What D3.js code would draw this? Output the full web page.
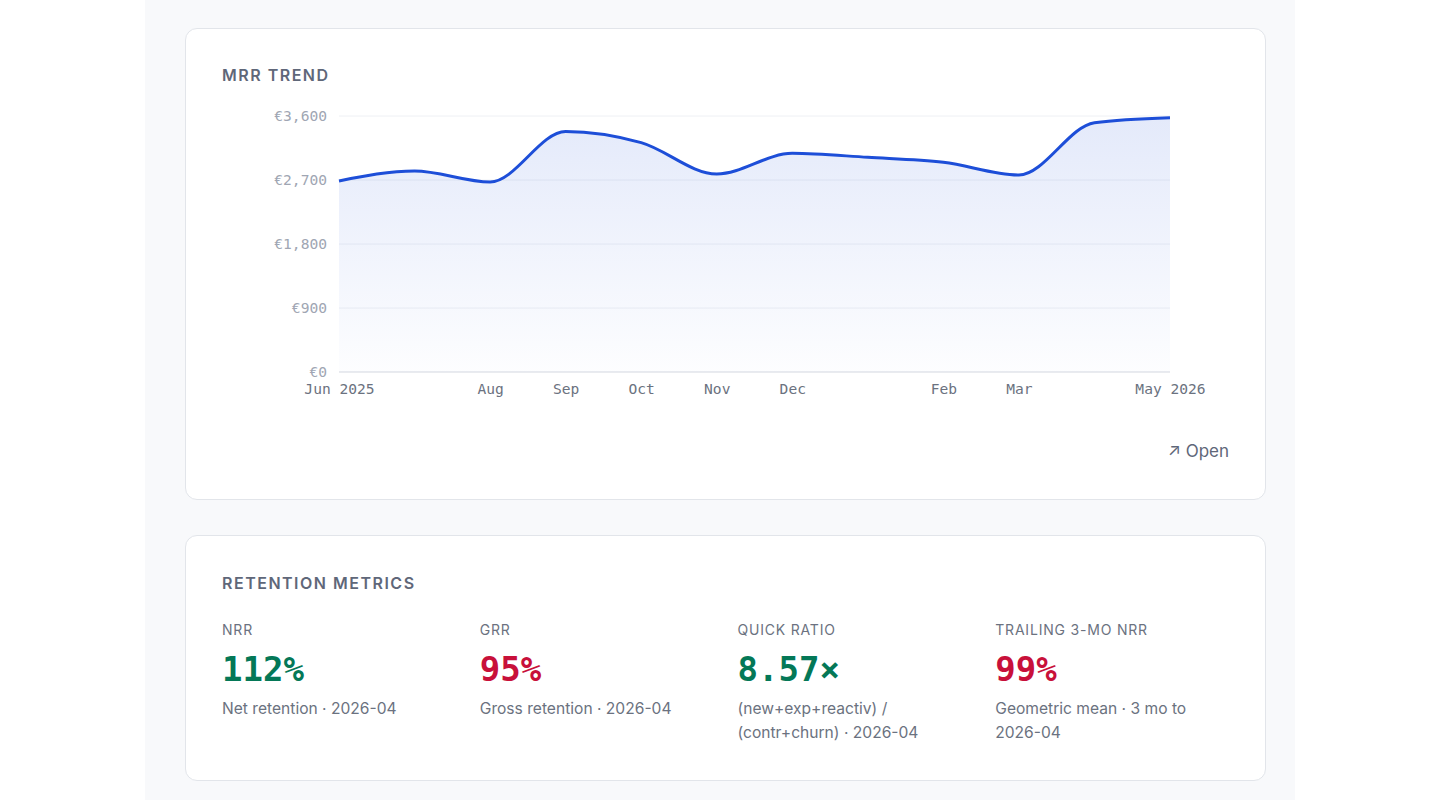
<!DOCTYPE html>
<html>
<head>
<meta charset="utf-8">
<script src="https://cdn.jsdelivr.net/npm/d3@7"></script>
<style>
  html, body { margin: 0; padding: 0; background: #fff; }
  body { font-family: Inter, "Noto Sans", sans-serif; }
  .page { width: 1150px; margin: 0 auto; background: #f8f9fb; min-height: 800px; padding: 28px 29px 0 40px; box-sizing: border-box; }
  .card { background: #fff; border: 1px solid #e2e5ea; border-radius: 12px; padding: 0 36px; box-sizing: border-box; position: relative; }
  .card h2 { margin: 0; font-size: 16px; font-weight: 600; letter-spacing: 1.5px; color: #5f6779; text-transform: uppercase; }
  #trend { height: 472px; padding-top: 36px; }
  #retention { height: 246px; margin-top: 35px; padding-top: 37px; }
  .open { position: absolute; right: 36px; top: 412px; font-size: 17px; color: #5f6779; }
  .grid-row { display: grid; grid-template-columns: repeat(4, 1fr); column-gap: 24px; margin-top: 27px; }
  .m-label { font-size: 14px; letter-spacing: 0.8px; color: #6b7280; line-height: 20px; }
  .m-value { font-family: "DejaVu Sans Mono", monospace; font-weight: bold; font-size: 34px; line-height: 40px; margin-top: 9px; }
  .m-sub { font-size: 15.6px; color: #6b7280; line-height: 24px; margin-top: 8px; }
  .good { color: #047857; }
  .bad { color: #c8103a; }
  .axis text { font-family: "DejaVu Sans Mono", monospace; font-size: 14.6px; }
</style>
</head>
<body>
<div class="page">
  <div class="card" id="trend">
    <h2>MRR Trend</h2>
    <div id="chart"></div>
    <div class="open">↗ Open</div>
  </div>
  <div class="card" id="retention">
    <h2>Retention Metrics</h2>
    <div class="grid-row" id="metrics"></div>
  </div>
</div>
<script>
// MRR by month
var months = ["2025-06", "2025-07", "2025-08", "2025-09", "2025-10", "2025-11",
              "2025-12", "2026-01", "2026-02", "2026-03", "2026-04", "2026-05"];
var mrr = [2686, 2827, 2672, 3382, 3225, 2784, 3075, 3019, 2949, 2770, 3506, 3576];

// axis labels (some months hidden like the original)
var xTickMonths = ["2025-06", "2025-08", "2025-09", "2025-10", "2025-11", "2025-12", "2026-02", "2026-03", "2026-05"];
var xTickLabels = ["Jun 2025", "Aug", "Sep", "Oct", "Nov", "Dec", "Feb", "Mar", "May 2026"];
var yTicks = [0, 900, 1800, 2700, 3600];

// retention cards
var metricNames = ["NRR", "GRR", "QUICK RATIO", "TRAILING 3-MO NRR"];
var metricValues = ["112%", "95%", "8.57×", "99%"];
var metricGood = [true, false, true, false];
var metricNotes = ["Net retention · 2026-04", "Gross retention · 2026-04",
                   "(new+exp+reactiv) / (contr+churn) · 2026-04", "Geometric mean · 3 mo to 2026-04"];

var width = 1008, height = 310;
var margin = {top: 16, right: 59, bottom: 38, left: 117};

var svg = d3.select("#chart").append("svg")
    .attr("width", width)
    .attr("height", height)
    .style("display", "block")
    .style("margin-top", "15px");

var x = d3.scalePoint()
    .domain(months)
    .range([margin.left, width - margin.right - 1]);

var y = d3.scaleLinear()
    .domain([0, 3600])
    .range([height - margin.bottom, margin.top]);

var grad = svg.append("defs").append("linearGradient")
    .attr("id", "fillGrad")
    .attr("x1", 0).attr("y1", 0).attr("x2", 0).attr("y2", 1);
grad.append("stop").attr("offset", "0%").attr("stop-color", "#1d4ed8").attr("stop-opacity", 0.12);
grad.append("stop").attr("offset", "100%").attr("stop-color", "#1d4ed8").attr("stop-opacity", 0.01);

// gridlines
svg.append("g")
    .selectAll("line")
    .data(yTicks)
    .join("line")
    .attr("x1", margin.left)
    .attr("x2", width - margin.right - 1)
    .attr("y1", d => y(d))
    .attr("y2", d => y(d))
    .attr("stroke", d => d === 0 ? "#e2e5ea" : "#eef0f4")
    .attr("stroke-width", d => d === 0 ? 1.5 : 1);

var data = months.map((m, i) => ({month: m, value: mrr[i]}));

var area = d3.area()
    .x(d => x(d.month))
    .y0(y(0))
    .y1(d => y(d.value))
    .curve(d3.curveMonotoneX);

var line = d3.line()
    .x(d => x(d.month))
    .y(d => y(d.value))
    .curve(d3.curveMonotoneX);

svg.append("path")
    .datum(data)
    .attr("d", area)
    .attr("fill", "url(#fillGrad)");

svg.append("path")
    .datum(data)
    .attr("d", line)
    .attr("fill", "none")
    .attr("stroke", "#1d4ed8")
    .attr("stroke-width", 3);

// y axis
var yAxis = svg.append("g")
    .attr("class", "axis")
    .attr("transform", "translate(" + (margin.left - 9) + ",0)")
    .call(d3.axisLeft(y).tickValues(yTicks).tickSize(0).tickFormat(d => "€" + d3.format(",")(d)));
yAxis.select(".domain").remove();
yAxis.selectAll("text").attr("fill", "#a0a6b3");

// x axis
var xAxis = svg.append("g")
    .attr("class", "axis")
    .attr("transform", "translate(0," + (height - margin.bottom) + ")")
    .call(d3.axisBottom(x).tickValues(xTickMonths).tickSize(0)
        .tickFormat(d => xTickLabels[xTickMonths.indexOf(d)]));
xAxis.select(".domain").remove();
xAxis.selectAll("text").attr("fill", "#6b7280").attr("y", 0).attr("dy", "1.5em");

// metrics
var cols = d3.select("#metrics")
    .selectAll("div.metric")
    .data(metricNames)
    .join("div")
    .attr("class", "metric");
cols.append("div").attr("class", "m-label").text(d => d);
cols.append("div")
    .attr("class", (d, i) => "m-value " + (metricGood[i] ? "good" : "bad"))
    .text((d, i) => metricValues[i]);
cols.append("div").attr("class", "m-sub").text((d, i) => metricNotes[i]);
</script>
</body>
</html>
